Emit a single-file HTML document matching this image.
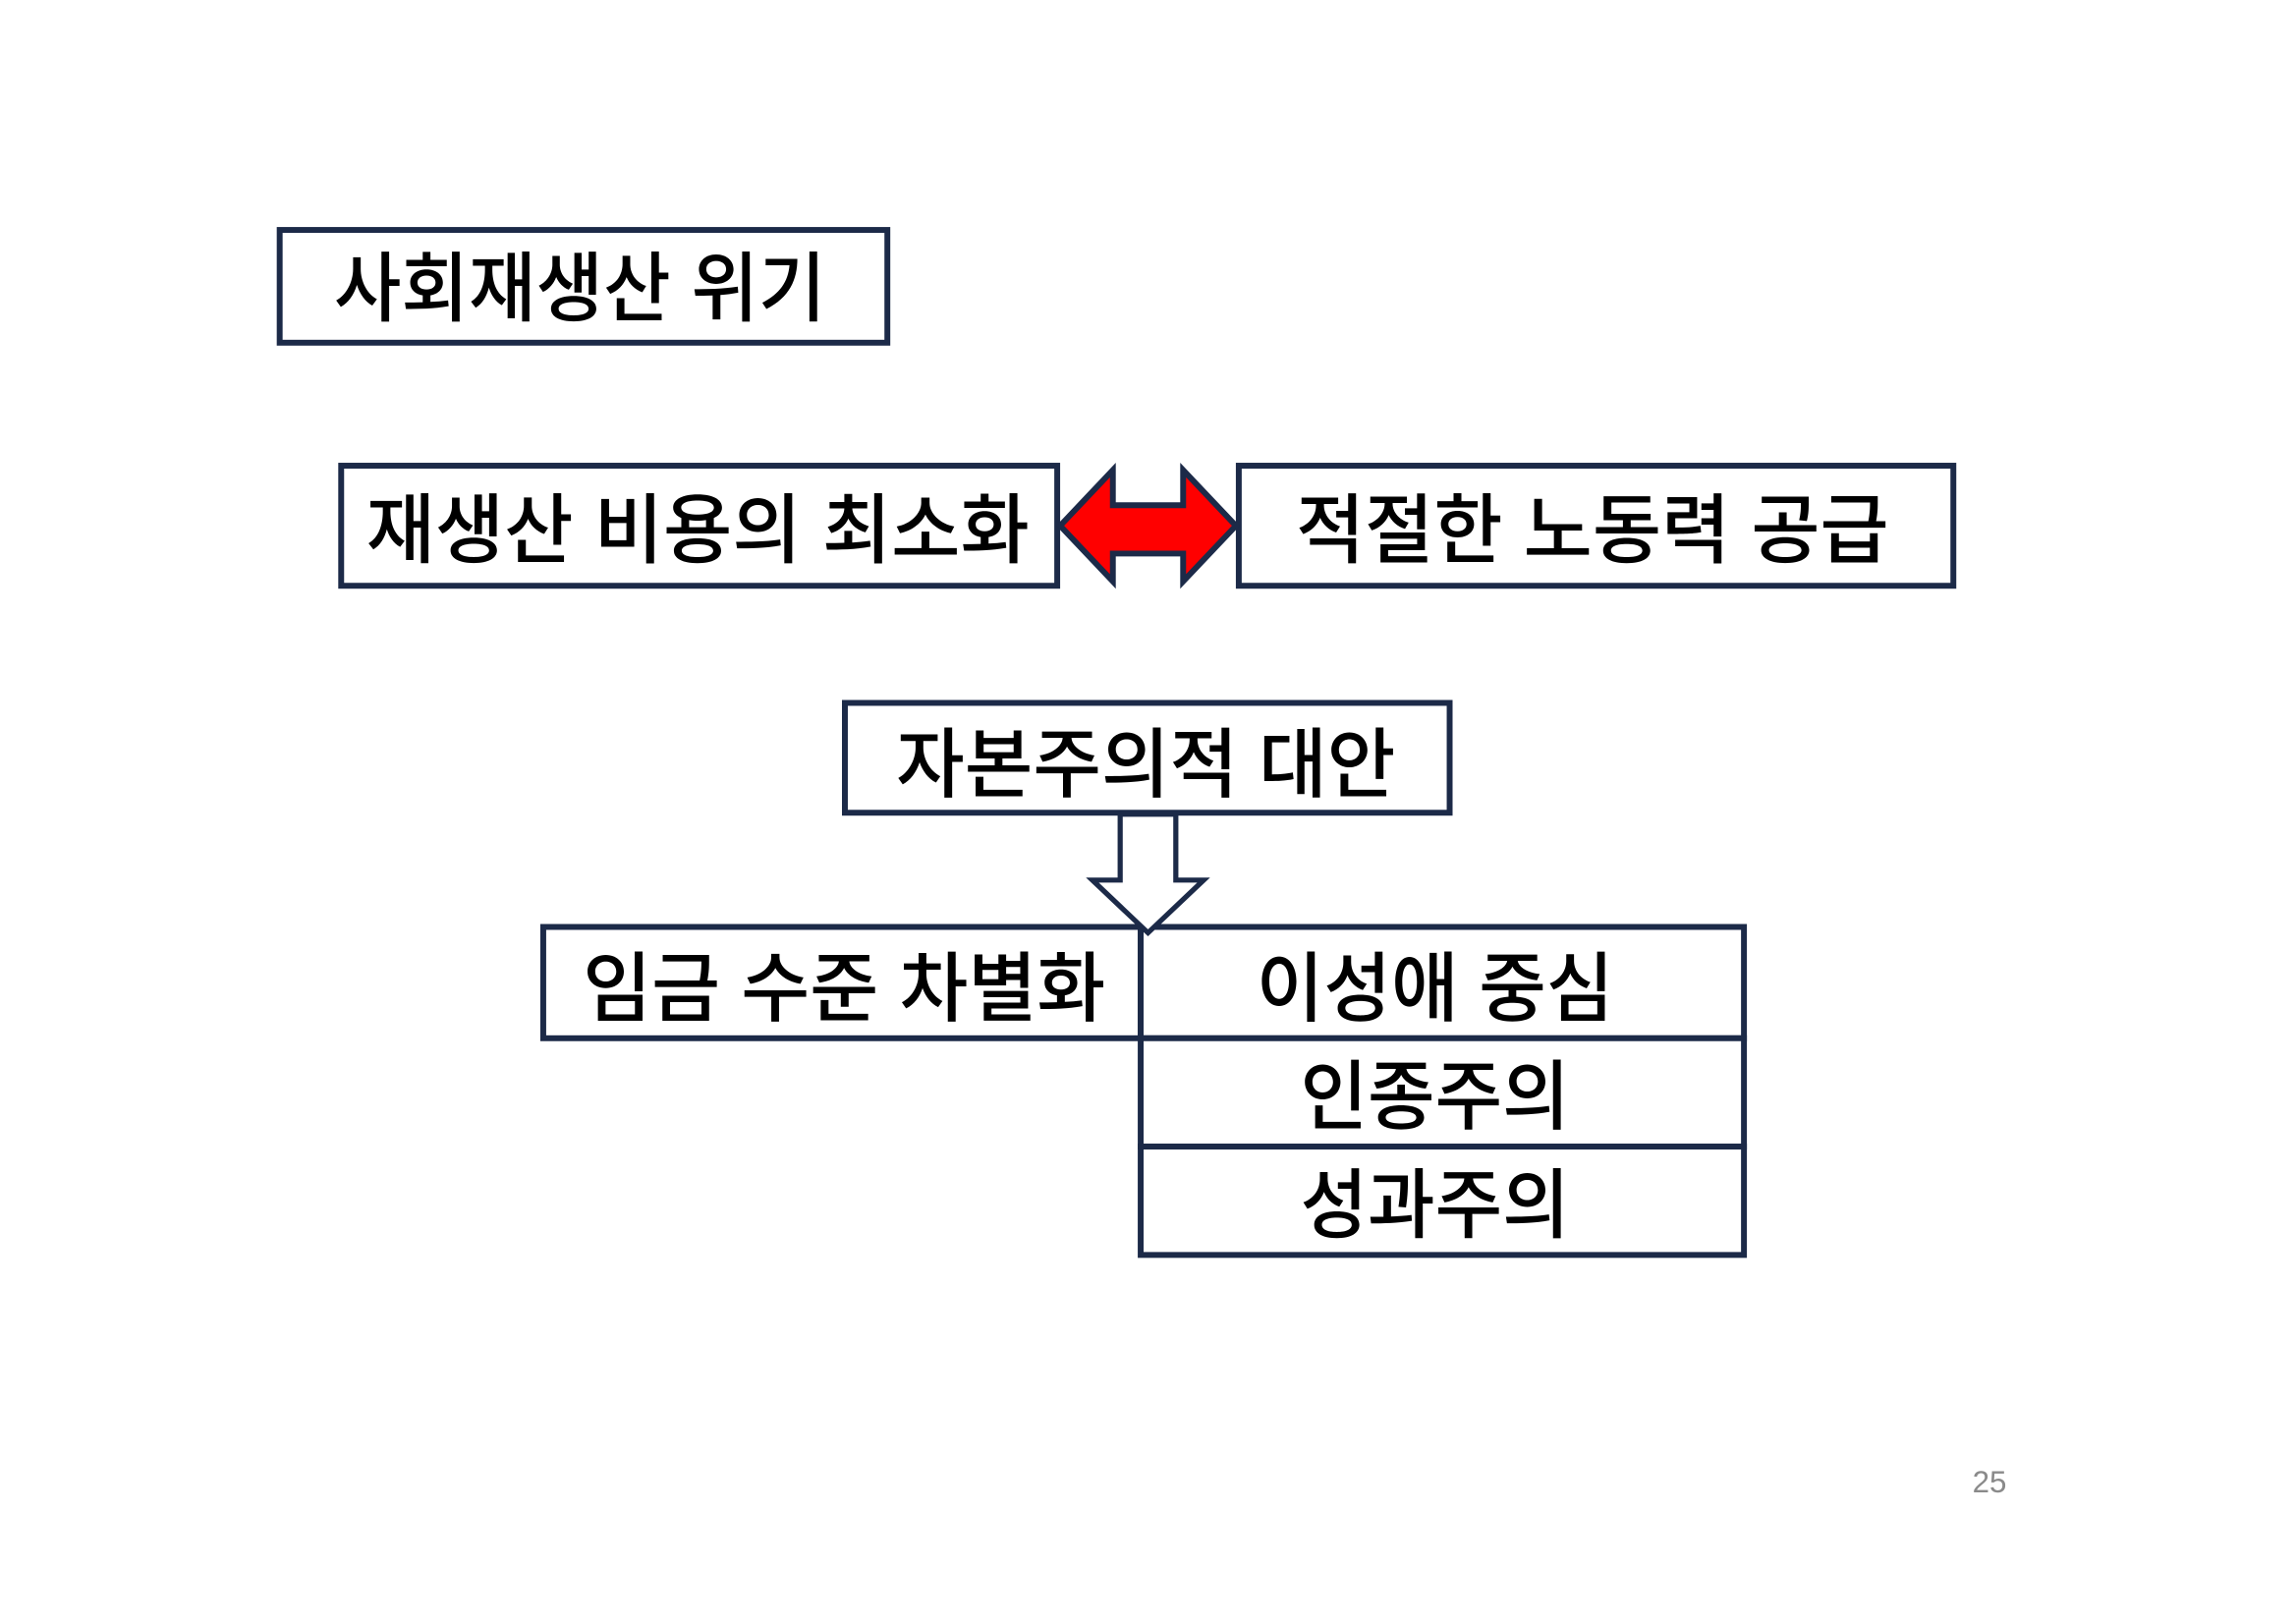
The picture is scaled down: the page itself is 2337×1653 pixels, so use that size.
<!DOCTYPE html>
<html><head><meta charset="utf-8"><style>
html,body{margin:0;padding:0;background:#fff;}
svg{display:block;}
text{font-family:"Liberation Sans","Noto Sans CJK KR",sans-serif;font-weight:500;fill:#000;}
</style></head><body>
<svg width="2337" height="1653" viewBox="0 0 1568 1109" xmlns="http://www.w3.org/2000/svg">
<rect width="1568" height="1109" fill="#fff"/>
<g fill="#fff" stroke="#1c2a48" stroke-width="4">
<rect x="191" y="157" width="415" height="77"/>
<rect x="233" y="318" width="489" height="82"/>
<rect x="846" y="318" width="488" height="82"/>
<rect x="577" y="480" width="413" height="75"/>
<rect x="371" y="633" width="408" height="76"/>
<rect x="779" y="633" width="412" height="76"/>
<rect x="779" y="709" width="412" height="74"/>
<rect x="779" y="783" width="412" height="74"/>
</g>
<polygon points="724,359 760,321 760,345 808,345 808,321 844,359 808,397 808,378 760,378 760,397" fill="#ff0000" stroke="#1c2a48" stroke-width="4" stroke-linejoin="miter"/>
<polygon points="765,556 803,556 803,601 822,601 784,637 746,601 765,601" fill="#fff" stroke="#1c2a48" stroke-width="3.5"/>
<g font-size="52">
<text x="228" y="215" textLength="336" lengthAdjust="spacingAndGlyphs">사회재생산 위기</text>
<text x="250" y="380" textLength="453" lengthAdjust="spacingAndGlyphs">재생산 비용의 최소화</text>
<text x="885" y="380" textLength="405" lengthAdjust="spacingAndGlyphs">적절한 노동력 공급</text>
<text x="612" y="540" textLength="341" lengthAdjust="spacingAndGlyphs">자본주의적 대안</text>
<text x="398" y="693" textLength="357" lengthAdjust="spacingAndGlyphs">임금 수준 차별화</text>
<text x="858" y="693" textLength="244" lengthAdjust="spacingAndGlyphs">이성애 중심</text>
<text x="888" y="767" textLength="184" lengthAdjust="spacingAndGlyphs">인종주의</text>
<text x="888" y="841" textLength="184" lengthAdjust="spacingAndGlyphs">성과주의</text>
</g>
<text x="1347" y="1019" font-size="21" style="font-weight:normal;fill:#8a8a8a">25</text>
</svg>
</body></html>
